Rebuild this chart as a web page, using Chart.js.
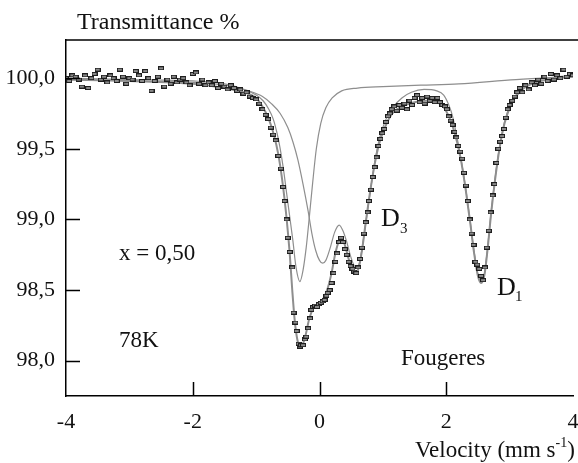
<!DOCTYPE html>
<html>
<head>
<meta charset="utf-8">
<script src="https://cdn.jsdelivr.net/npm/chart.js@4.4.1/dist/chart.umd.min.js"></script>
<style>
  html, body { margin: 0; padding: 0; background: #fff; }
</style>
</head>
<body>
<canvas id="chartMossbauer" width="578" height="463"></canvas>
<script>
/* DATOS: ESPECTRO MOSSBAUER (velocidad mm/s, transmision %) */
const dataVel = [
  -4.00, -3.95, -3.90, -3.85, -3.80, -3.75, -3.70, -3.65, -3.60, -3.55,
  -3.50, -3.45, -3.40, -3.35, -3.30, -3.25, -3.20, -3.15, -3.10, -3.05,
  -3.00, -2.95, -2.90, -2.85, -2.80, -2.75, -2.70, -2.65, -2.60, -2.55,
  -2.50, -2.45, -2.40, -2.35, -2.30, -2.25, -2.20, -2.15, -2.10, -2.05,
  -2.00, -1.95, -1.90, -1.85, -1.80, -1.75, -1.70, -1.65, -1.60, -1.55,
  -1.50, -1.45, -1.40, -1.35, -1.30, -1.25, -1.20, -1.15, -1.10, -1.05,
  -1.00, -0.95, -0.90, -0.85, -0.81, -0.77, -0.73, -0.69, -0.65, -0.61,
  -0.575, -0.55, -0.52, -0.50, -0.47, -0.43, -0.41, -0.38, -0.36, -0.33,
  -0.31, -0.29, -0.26, -0.23, -0.21, -0.18, -0.15, -0.13, -0.10, -0.07,
  -0.04, -0.01, 0.02, 0.05, 0.08, 0.11, 0.13, 0.16, 0.19, 0.22,
  0.25, 0.28, 0.31, 0.34, 0.37, 0.40, 0.43, 0.46, 0.49, 0.52,
  0.55, 0.58, 0.61, 0.64, 0.67, 0.70, 0.73, 0.76, 0.78, 0.81,
  0.84, 0.87, 0.90, 0.93, 0.96, 0.99, 1.02, 1.05, 1.08, 1.11,
  1.14, 1.18, 1.22, 1.26, 1.30, 1.34, 1.38, 1.42, 1.46, 1.50,
  1.54, 1.58, 1.62, 1.66, 1.70, 1.74, 1.78, 1.82, 1.86, 1.90,
  1.94, 1.98, 2.01, 2.04, 2.07, 2.10, 2.13, 2.16, 2.19, 2.22,
  2.25, 2.28, 2.31, 2.34, 2.37, 2.40, 2.43, 2.46, 2.49, 2.52,
  2.55, 2.58, 2.61, 2.64, 2.67, 2.70, 2.73, 2.76, 2.79, 2.82,
  2.85, 2.88, 2.91, 2.94, 2.97, 3.00, 3.04, 3.08, 3.12, 3.16,
  3.20, 3.25, 3.30, 3.35, 3.40, 3.45, 3.50, 3.55, 3.60, 3.65,
  3.70, 3.75, 3.80, 3.85, 3.90, 3.95, 4.00
];
const dataTrans = [
  100.00, 99.98, 100.02, 100.01, 99.99, 99.94, 100.02, 99.93, 100.00, 100.03,
  100.06, 99.99, 100.01, 99.97, 100.02, 100.00, 99.98, 100.06, 100.01, 99.96,
  100.00, 99.99, 100.05, 100.02, 99.98, 100.05, 100.00, 99.91, 99.98, 100.01,
  100.07, 99.94, 99.99, 99.96, 100.01, 99.97, 99.99, 100.00, 99.97, 99.95,
  100.03, 100.04, 99.96, 99.99, 99.95, 99.97, 99.95, 99.98, 99.93, 99.96,
  99.94, 99.92, 99.95, 99.93, 99.91, 99.92, 99.89, 99.90, 99.87, 99.86,
  99.85, 99.82, 99.78, 99.74, 99.71, 99.65, 99.60, 99.56, 99.45, 99.36,
  99.23, 99.13, 99.00, 98.87, 98.77, 98.66, 98.34, 98.27, 98.21, 98.12,
  98.10, 98.11, 98.11, 98.15, 98.17, 98.23, 98.30, 98.36, 98.38, 98.39,
  98.38, 98.40, 98.41, 98.42, 98.43, 98.46, 98.48, 98.50, 98.55, 98.62,
  98.70, 98.76, 98.84, 98.87, 98.84, 98.79, 98.75, 98.70, 98.67, 98.65,
  98.63, 98.62, 98.66, 98.72, 98.80, 98.90, 98.98, 99.05, 99.13, 99.21,
  99.30, 99.37, 99.44, 99.52, 99.57, 99.61, 99.64, 99.69, 99.73, 99.75,
  99.78, 99.80, 99.77, 99.81, 99.79, 99.82, 99.78, 99.84, 99.81, 99.86,
  99.88, 99.83, 99.86, 99.82, 99.87, 99.84, 99.86, 99.83, 99.86, 99.83,
  99.81, 99.80, 99.78, 99.73, 99.70, 99.67, 99.62, 99.58, 99.52, 99.48,
  99.43, 99.33, 99.24, 99.13, 99.00, 98.90, 98.82, 98.70, 98.68, 98.65,
  98.60, 98.57, 98.66, 98.80, 98.92, 99.05, 99.17, 99.25, 99.40, 99.50,
  99.55, 99.59, 99.64, 99.72, 99.78, 99.81, 99.84, 99.87, 99.90, 99.93,
  99.90, 99.95, 99.92, 99.97, 99.95, 99.99, 99.96, 100.01, 99.98, 100.03,
  99.99, 100.02, 100.00, 100.06, 100.01, 100.03, 100.02
];

/* AJUSTE TOTAL */
const fitVel = [
  -4.0, -3.0, -2.0, -1.5, -1.2, -1.0, -0.9, -0.8, -0.72, -0.65,
  -0.58, -0.52, -0.47, -0.43, -0.39, -0.35, -0.31, -0.27, -0.22, -0.16,
  -0.10, -0.03, 0.05, 0.12, 0.19, 0.25, 0.31, 0.35, 0.40, 0.46,
  0.52, 0.57, 0.62, 0.67, 0.73, 0.80, 0.87, 0.95, 1.05, 1.15,
  1.3, 1.5, 1.7, 1.85, 1.95, 2.03, 2.10, 2.17, 2.24, 2.31,
  2.38, 2.44, 2.50, 2.55, 2.60, 2.65, 2.71, 2.77, 2.84, 2.92,
  3.02, 3.15, 3.35, 3.6, 4.0
];
const fitTrans = [
  99.99, 99.98, 99.96, 99.93, 99.90, 99.86, 99.80, 99.71, 99.60, 99.46,
  99.25, 99.01, 98.76, 98.50, 98.28, 98.15, 98.10, 98.11, 98.18, 98.30,
  98.37, 98.40, 98.43, 98.50, 98.62, 98.76, 98.85, 98.87, 98.82, 98.72,
  98.65, 98.62, 98.66, 98.78, 98.98, 99.20, 99.39, 99.55, 99.67, 99.75,
  99.80, 99.83, 99.84, 99.83, 99.80, 99.74, 99.66, 99.55, 99.40, 99.20,
  98.97, 98.76, 98.60, 98.55, 98.60, 98.78, 99.05, 99.28, 99.50, 99.68,
  99.81, 99.90, 99.96, 99.99, 100.01
];

/* SUBESPECTRO: LINEA EN -0,31 */
const subAVel = [
  -4.0, -3.0, -2.0, -1.5, -1.2, -1.0, -0.89, -0.8, -0.73, -0.67,
  -0.62, -0.57, -0.52, -0.47, -0.42, -0.37, -0.31, -0.26, -0.21, -0.16,
  -0.11, -0.05, 0.02, 0.10, 0.20, 0.35, 0.6, 1.0, 1.6, 2.2,
  3.1, 4.0
];
const subATrans = [
  99.99, 99.98, 99.97, 99.95, 99.92, 99.88, 99.84, 99.78, 99.71, 99.61,
  99.50, 99.36, 99.19, 99.02, 98.85, 98.66, 98.56, 98.64, 98.80, 99.02,
  99.25, 99.50, 99.68, 99.79, 99.86, 99.91, 99.93, 99.94, 99.95, 99.96,
  99.99, 100.01
];

/* SUBESPECTRO: D3 + D1 */
const subBVel = [
  -4.0, -3.0, -2.0, -1.5, -1.12, -0.9, -0.76, -0.62, -0.50, -0.42,
  -0.34, -0.26, -0.18, -0.12, -0.06, 0.0, 0.05, 0.10, 0.17, 0.24,
  0.31, 0.37, 0.43, 0.49, 0.55, 0.59, 0.64, 0.70, 0.78, 0.87,
  0.95, 1.05, 1.15, 1.3, 1.45, 1.65, 1.85, 1.96, 2.04, 2.10,
  2.17, 2.24, 2.31, 2.38, 2.44, 2.50, 2.55, 2.60, 2.65, 2.71,
  2.77, 2.84, 2.92, 3.02, 3.15, 3.35, 3.6, 4.0
];
const subBTrans = [
  100.00, 99.99, 99.98, 99.96, 99.91, 99.87, 99.82, 99.75, 99.65, 99.55,
  99.42, 99.25, 99.06, 98.90, 98.78, 98.71, 98.69, 98.71, 98.80, 98.91,
  98.96, 98.92, 98.84, 98.74, 98.67, 98.66, 98.71, 98.88, 99.13, 99.40,
  99.58, 99.71, 99.79, 99.86, 99.90, 99.92, 99.91, 99.88, 99.81, 99.73,
  99.58, 99.41, 99.21, 98.98, 98.77, 98.61, 98.56, 98.61, 98.79, 99.06,
  99.29, 99.51, 99.69, 99.82, 99.91, 99.97, 100.00, 100.02
];

/* EJES */
const xTicks = [-4, -2, 0, 2, 4];
const yTicks = [98.0, 98.5, 99.0, 99.5, 100.0];

const FONT = '"Liberation Serif", "Times New Roman", serif';

function toXY(vs, ts) {
  return vs.map((v, i) => ({ x: v, y: ts[i] }));
}

// marcador rectangular pequeño como en el original
function makeMarker() {
  const c = document.createElement('canvas');
  c.width = 6;
  c.height = 4;
  const g = c.getContext('2d');
  g.fillStyle = '#1e1e1e';
  g.fillRect(0, 0, 6, 4);
  g.fillStyle = '#8a8a8a';
  g.fillRect(1, 1, 4, 2);
  return c;
}

/* ANOTACIONES, MARCO Y TICKS HACIA DENTRO */
const decorPlugin = {
  id: 'decor',
  afterDraw(chart) {
    const ctx = chart.ctx;
    const a = chart.chartArea;
    const xs = chart.scales.x;
    const ys = chart.scales.y;
    ctx.save();
    ctx.strokeStyle = '#000';
    ctx.lineWidth = 1.5;
    ctx.beginPath();
    ctx.moveTo(a.left, a.top);
    ctx.lineTo(chart.width, a.top);
    ctx.stroke();

    ctx.lineWidth = 1.5;
    ctx.beginPath();
    yTicks.forEach(v => {
      const py = Math.round(ys.getPixelForValue(v)) + 0.5;
      ctx.moveTo(a.left, py);
      ctx.lineTo(a.left + 14, py);
    });
    xTicks.slice(1, -1).forEach(v => {
      const px = Math.round(xs.getPixelForValue(v)) + 0.5;
      ctx.moveTo(px, a.bottom);
      ctx.lineTo(px, a.bottom - 14);
    });
    ctx.stroke();

    ctx.fillStyle = '#111';
    ctx.textBaseline = 'alphabetic';
    ctx.textAlign = 'left';
    ctx.font = '24px ' + FONT;
    ctx.fillText('Transmittance %', 77, 29);
    ctx.font = '23px ' + FONT;
    ctx.fillText('x = 0,50', 119, 260);
    ctx.fillText('78K', 119, 347);
    ctx.fillText('Fougeres', 401, 365);

    // Velocity (mm s-1)
    let x = 415;
    const base = 457;
    ctx.fillText('Velocity (mm s', x, base);
    x += ctx.measureText('Velocity (mm s').width;
    ctx.font = '14px ' + FONT;
    ctx.fillText('-1', x, base - 10);
    x += ctx.measureText('-1').width;
    ctx.font = '23px ' + FONT;
    ctx.fillText(')', x, base);

    // D3 y D1
    ctx.font = '26px ' + FONT;
    ctx.fillText('D', 381, 226);
    ctx.fillText('D', 497, 295);
    ctx.font = '15px ' + FONT;
    ctx.fillText('3', 400, 233);
    ctx.fillText('1', 515, 301);
    ctx.restore();
  }
};

const lineStyle = {
  showLine: true,
  pointRadius: 0,
  cubicInterpolationMode: 'monotone',
  borderColor: '#8e8e8e',
  fill: false,
};

new Chart(document.getElementById('chartMossbauer').getContext('2d'), {
  type: 'scatter',
  data: {
    datasets: [
      {
        label: 'Datos',
        data: toXY(dataVel, dataTrans),
        pointStyle: makeMarker(),
        pointRadius: 3,
        showLine: false,
      },
      Object.assign({ label: 'Ajuste', data: toXY(fitVel, fitTrans), borderWidth: 2 }, lineStyle),
      Object.assign({ label: 'Sub A', data: toXY(subAVel, subATrans), borderWidth: 1.2 }, lineStyle),
      Object.assign({ label: 'Sub B', data: toXY(subBVel, subBTrans), borderWidth: 1.2 }, lineStyle),
    ],
  },
  options: {
    responsive: false,
    animation: false,
    devicePixelRatio: 1,
    layout: { padding: { top: 40, right: 1, left: 0, bottom: 0 } },
    plugins: {
      legend: { display: false },
      tooltip: { enabled: false },
    },
    scales: {
      x: {
        type: 'linear',
        min: -4,
        max: 4,
        grid: { display: false, drawTicks: false },
        border: { display: true, color: '#000', width: 1.5 },
        ticks: {
          stepSize: 2,
          color: '#111',
          padding: 13,
          font: { family: FONT, size: 22 },
        },
        afterFit(scale) {
          scale.height = 67;
          scale.paddingLeft = 0;
          scale.paddingRight = 0;
        },
      },
      y: {
        min: 97.75,
        max: 100.27,
        grid: { display: false, drawTicks: false },
        border: { display: true, color: '#000', width: 1.5 },
        ticks: {
          stepSize: 0.5,
          includeBounds: false,
          color: '#111',
          padding: 11,
          font: { family: FONT, size: 22 },
          callback: v => v.toFixed(1).replace('.', ','),
        },
        afterFit(scale) {
          scale.width = 66;
        },
      },
    },
  },
  plugins: [decorPlugin],
});
</script>
</body>
</html>
